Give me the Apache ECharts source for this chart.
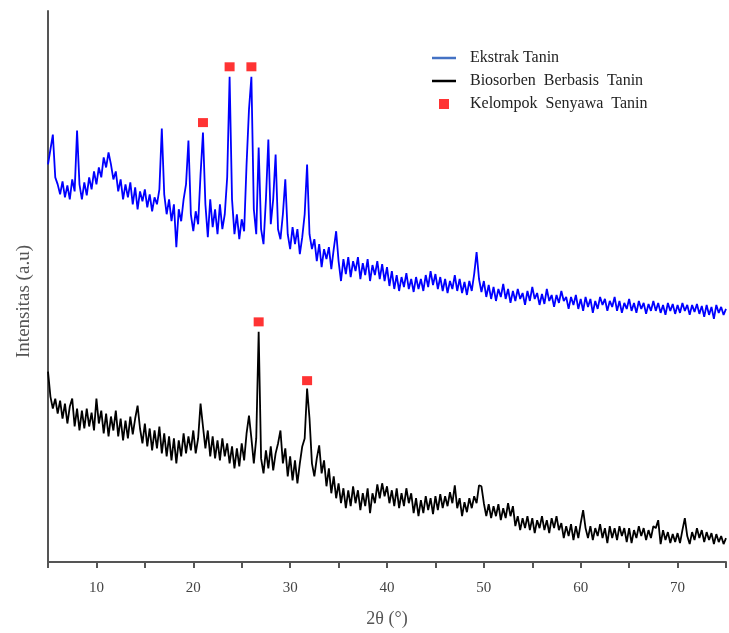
<!DOCTYPE html>
<html>
<head>
<meta charset="utf-8">
<script src="https://cdn.jsdelivr.net/npm/echarts@6/dist/echarts.min.js"></script>
<style>
  html, body { margin: 0; padding: 0; background: #fff; }
  #chart { width: 729px; height: 633px; }
</style>
</head>
<body>
<div id="chart"></div>
<script>
// scan grid (2θ in degrees)
const xStart = 5
const xStep = 0.25

// Ekstrak Tanin, intensity (a.u), one value per 0.25 deg from 5 to 75
const ekstrakTanin = [
  399,414,429,386,379,369,382,366,378,364,384,372,433,379,364,381,368,386,374,392,
  379,396,386,406,396,411,399,384,392,372,384,364,379,366,381,359,376,354,372,362,
  374,356,369,352,366,359,374,435,369,349,364,342,359,316,354,342,364,379,423,349,
  332,352,339,389,431,359,326,364,336,354,329,359,334,349,386,487,364,329,349,324,
  344,332,399,454,487,354,329,416,334,319,364,424,339,364,409,334,324,349,384,329,
  314,336,319,334,309,326,349,399,329,314,324,302,319,296,314,304,316,294,314,332,
  302,282,304,289,306,286,302,292,306,284,300,288,304,282,298,288,302,284,299,282,
  296,277,292,274,288,272,286,276,290,274,284,271,286,274,284,272,288,276,292,278,
  289,274,286,272,284,270,282,274,288,272,284,270,281,268,282,272,289,311,284,271,
  282,266,278,264,276,262,274,266,279,264,274,260,272,262,274,264,270,258,272,262,
  276,264,270,258,269,259,274,262,268,256,268,260,272,262,266,254,266,258,268,254,
  264,252,266,256,264,250,262,254,266,258,264,252,262,256,266,252,262,250,260,254,
  264,252,260,250,262,254,260,249,259,252,262,252,260,250,258,248,260,252,259,249,
  258,250,260,252,258,248,258,251,259,249,257,246,258,248,256,244,258,250,256,248,
  254
]

// Biosorben Berbasis Tanin, same grid
const biosorben = [
  191,166,154,164,149,162,144,159,139,156,164,136,154,132,152,134,154,136,150,132,
  164,139,152,129,149,126,146,132,152,126,144,122,142,124,146,128,144,157,134,119,
  139,116,134,112,132,114,136,109,129,106,126,102,124,99,122,106,129,109,126,112,
  132,109,124,159,136,114,132,106,126,104,122,102,124,106,119,99,116,94,114,96,
  119,102,129,147,124,99,124,231,104,89,112,94,116,92,109,119,132,99,114,86,
  106,82,102,79,99,116,124,174,144,99,86,104,117,89,102,76,94,69,86,64,
  79,59,74,54,72,56,76,59,72,52,69,56,74,49,69,59,78,64,79,66,
  76,59,72,56,74,54,69,56,74,59,69,49,64,46,62,49,66,52,64,48,
  66,52,68,54,66,56,70,59,77,54,64,46,60,50,64,54,66,59,77,76,
  59,46,58,44,56,46,58,42,54,44,59,46,56,36,46,32,44,34,46,32,
  44,29,42,34,46,32,42,29,44,34,46,32,39,24,36,26,38,22,36,24,
  39,52,34,24,36,22,34,26,38,24,34,19,36,24,34,22,36,26,34,20,
  34,19,32,24,36,26,34,22,32,24,36,34,42,18,32,22,30,19,28,20,
  29,19,32,44,26,18,30,22,34,24,32,20,30,22,29,18,28,20,26,18,
  24
]

// tannin compound peaks (marked with red squares)
const peakX = [21, 23.75, 26, 26.75, 31.75]
const peakY = [441, 497, 497, 241, 182]

const xTickLabels = [10, 20, 30, 40, 50, 60, 70]

const serif = '"Liberation Serif", "DejaVu Serif", serif'
const lineIcon = 'path://M0,0 L24,0 L24,2.5 L0,2.5 Z'
const squareIcon = 'path://M0,0 L10,0 L10,10 L0,10 Z'

function toPairs(vals) {
  return vals.map(function (v, i) { return [xStart + i * xStep, v] })
}

let chart = echarts.init(document.getElementById('chart'))
let options = {
  animation: false,
  backgroundColor: '#fff',
  grid: { left: 48, right: 0, top: 11, bottom: 69 },
  legend: {
    orient: 'vertical',
    left: 427,
    top: 45,
    itemWidth: 24,
    itemHeight: 10,
    itemGap: 7,
    textStyle: { fontFamily: serif, fontSize: 16, color: '#222', padding: [0, 0, 0, 9] },
    data: [
      { name: 'Ekstrak Tanin', icon: lineIcon, itemStyle: { color: '#4472c4' } },
      { name: 'Biosorben  Berbasis  Tanin', icon: lineIcon, itemStyle: { color: '#000' } },
      { name: 'Kelompok  Senyawa  Tanin', icon: squareIcon, itemStyle: { color: '#ff0000' } }
    ]
  },
  xAxis: {
    type: 'value',
    min: 5,
    max: 75,
    interval: 5,
    name: '2θ (°)',
    nameLocation: 'middle',
    nameGap: 48,
    nameTextStyle: { fontFamily: serif, fontSize: 18, color: '#555' },
    axisLine: { lineStyle: { color: '#555', width: 2 } },
    axisTick: { length: 6, lineStyle: { color: '#555', width: 2 } },
    axisLabel: {
      margin: 19,
      fontFamily: serif,
      fontSize: 15,
      color: '#444',
      formatter: function (v) { return xTickLabels.indexOf(v) >= 0 ? String(v) : '' }
    },
    splitLine: { show: false }
  },
  yAxis: {
    type: 'value',
    min: 0,
    max: 553,
    name: 'Intensitas (a.u)',
    nameLocation: 'middle',
    nameGap: 14,
    nameTextStyle: { fontFamily: serif, fontSize: 19, color: '#555', padding: [0, 30, 0, 0] },
    axisLine: { show: true, lineStyle: { color: '#555', width: 2 } },
    axisTick: { show: false },
    axisLabel: { show: false },
    splitLine: { show: false }
  },
  series: [
    {
      name: 'Ekstrak Tanin',
      type: 'line',
      showSymbol: false,
      symbol: 'none',
      data: toPairs(ekstrakTanin),
      lineStyle: { color: '#0000ff', width: 1.8 },
      itemStyle: { color: '#0000ff' }
    },
    {
      name: 'Biosorben  Berbasis  Tanin',
      type: 'line',
      showSymbol: false,
      symbol: 'none',
      data: toPairs(biosorben),
      lineStyle: { color: '#000', width: 1.8 },
      itemStyle: { color: '#000' }
    },
    {
      name: 'Kelompok  Senyawa  Tanin',
      type: 'scatter',
      symbol: 'rect',
      symbolSize: [10, 9],
      itemStyle: { color: '#ff0000' },
      data: peakX.map(function (x, i) { return [x, peakY[i]] }),
      z: 5
    }
  ]
}
chart.setOption(options)
window.addEventListener('resize', function () {
  chart.resize()
})
</script>
</body>
</html>
